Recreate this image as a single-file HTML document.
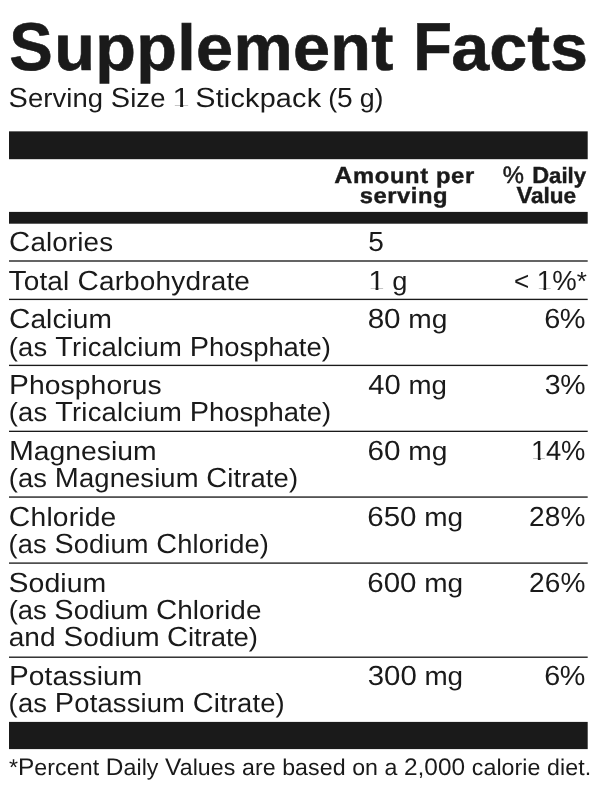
<!DOCTYPE html>
<html lang="en">
<head>
<meta charset="utf-8">
<title>Supplement Facts</title>
<style>
html,body{margin:0;padding:0;background:#fff;}
body{width:600px;height:800px;position:relative;overflow:hidden;font-family:"Liberation Sans",sans-serif;color:#1a1a1a;will-change:transform;text-rendering:geometricPrecision;}
.t{position:absolute;left:0;top:0;white-space:nowrap;line-height:1;margin:0;padding:0;transform-origin:0 0;}
.b{font-weight:bold;}
.c{font-size:1.055em;}
.one{display:inline-block;clip-path:polygon(0 0,0.6em 0,0.6em 0.764em,0.346em 0.764em,0.346em 1.1em,0.246em 1.1em,0.246em 0.764em,0 0.764em);}
.r{position:absolute;}
</style>
</head>
<body>
<div class="r" style="left:9px;top:131px;width:578px;height:1px;background:rgba(26,26,26,0.65)"></div>
<div class="r" style="left:587px;top:131px;width:1px;height:1px;background:rgba(26,26,26,0.46)"></div>
<div class="r" style="left:9px;top:132px;width:578px;height:27px;background:rgba(26,26,26,1.00)"></div>
<div class="r" style="left:587px;top:132px;width:1px;height:27px;background:rgba(26,26,26,0.70)"></div>
<div class="r" style="left:9px;top:159px;width:578px;height:1px;background:rgba(26,26,26,0.20)"></div>
<div class="r" style="left:587px;top:159px;width:1px;height:1px;background:rgba(26,26,26,0.14)"></div>
<div class="r" style="left:9px;top:211px;width:578px;height:1px;background:rgba(26,26,26,0.10)"></div>
<div class="r" style="left:587px;top:211px;width:1px;height:1px;background:rgba(26,26,26,0.07)"></div>
<div class="r" style="left:9px;top:212px;width:578px;height:11px;background:rgba(26,26,26,1.00)"></div>
<div class="r" style="left:587px;top:212px;width:1px;height:11px;background:rgba(26,26,26,0.70)"></div>
<div class="r" style="left:9px;top:223px;width:578px;height:1px;background:rgba(26,26,26,0.70)"></div>
<div class="r" style="left:587px;top:223px;width:1px;height:1px;background:rgba(26,26,26,0.49)"></div>
<div class="r" style="left:9px;top:721px;width:578px;height:1px;background:rgba(26,26,26,0.10)"></div>
<div class="r" style="left:587px;top:721px;width:1px;height:1px;background:rgba(26,26,26,0.07)"></div>
<div class="r" style="left:9px;top:722px;width:578px;height:27px;background:rgba(26,26,26,1.00)"></div>
<div class="r" style="left:587px;top:722px;width:1px;height:27px;background:rgba(26,26,26,0.70)"></div>
<div class="r" style="left:9px;top:749px;width:578px;height:1px;background:rgba(26,26,26,0.10)"></div>
<div class="r" style="left:587px;top:749px;width:1px;height:1px;background:rgba(26,26,26,0.07)"></div>
<div class="r" style="left:9px;top:260px;width:578px;height:1px;background:rgba(26,26,26,0.68)"></div>
<div class="r" style="left:587px;top:260px;width:1px;height:1px;background:rgba(26,26,26,0.47)"></div>
<div class="r" style="left:9px;top:261px;width:578px;height:1px;background:rgba(26,26,26,0.68)"></div>
<div class="r" style="left:587px;top:261px;width:1px;height:1px;background:rgba(26,26,26,0.47)"></div>
<div class="r" style="left:9px;top:298px;width:578px;height:1px;background:rgba(26,26,26,0.28)"></div>
<div class="r" style="left:587px;top:298px;width:1px;height:1px;background:rgba(26,26,26,0.19)"></div>
<div class="r" style="left:9px;top:299px;width:578px;height:1px;background:rgba(26,26,26,1.00)"></div>
<div class="r" style="left:587px;top:299px;width:1px;height:1px;background:rgba(26,26,26,0.70)"></div>
<div class="r" style="left:9px;top:300px;width:578px;height:1px;background:rgba(26,26,26,0.07)"></div>
<div class="r" style="left:587px;top:300px;width:1px;height:1px;background:rgba(26,26,26,0.05)"></div>
<div class="r" style="left:9px;top:364px;width:578px;height:1px;background:rgba(26,26,26,0.28)"></div>
<div class="r" style="left:587px;top:364px;width:1px;height:1px;background:rgba(26,26,26,0.19)"></div>
<div class="r" style="left:9px;top:365px;width:578px;height:1px;background:rgba(26,26,26,1.00)"></div>
<div class="r" style="left:587px;top:365px;width:1px;height:1px;background:rgba(26,26,26,0.70)"></div>
<div class="r" style="left:9px;top:366px;width:578px;height:1px;background:rgba(26,26,26,0.07)"></div>
<div class="r" style="left:587px;top:366px;width:1px;height:1px;background:rgba(26,26,26,0.05)"></div>
<div class="r" style="left:9px;top:430px;width:578px;height:1px;background:rgba(26,26,26,0.32)"></div>
<div class="r" style="left:587px;top:430px;width:1px;height:1px;background:rgba(26,26,26,0.23)"></div>
<div class="r" style="left:9px;top:431px;width:578px;height:1px;background:rgba(26,26,26,1.00)"></div>
<div class="r" style="left:587px;top:431px;width:1px;height:1px;background:rgba(26,26,26,0.70)"></div>
<div class="r" style="left:9px;top:496px;width:578px;height:1px;background:rgba(26,26,26,0.61)"></div>
<div class="r" style="left:587px;top:496px;width:1px;height:1px;background:rgba(26,26,26,0.42)"></div>
<div class="r" style="left:9px;top:497px;width:578px;height:1px;background:rgba(26,26,26,0.75)"></div>
<div class="r" style="left:587px;top:497px;width:1px;height:1px;background:rgba(26,26,26,0.52)"></div>
<div class="r" style="left:9px;top:562px;width:578px;height:1px;background:rgba(26,26,26,0.57)"></div>
<div class="r" style="left:587px;top:562px;width:1px;height:1px;background:rgba(26,26,26,0.40)"></div>
<div class="r" style="left:9px;top:563px;width:578px;height:1px;background:rgba(26,26,26,0.77)"></div>
<div class="r" style="left:587px;top:563px;width:1px;height:1px;background:rgba(26,26,26,0.54)"></div>
<div class="r" style="left:9px;top:656px;width:578px;height:1px;background:rgba(26,26,26,0.47)"></div>
<div class="r" style="left:587px;top:656px;width:1px;height:1px;background:rgba(26,26,26,0.33)"></div>
<div class="r" style="left:9px;top:657px;width:578px;height:1px;background:rgba(26,26,26,0.88)"></div>
<div class="r" style="left:587px;top:657px;width:1px;height:1px;background:rgba(26,26,26,0.61)"></div>
<div class="t b" id="l0" style="font-size:64.8px;letter-spacing:0.090px;transform:translate(9.29px,14px) scaleX(0.9627);-webkit-text-stroke:0.6px #1a1a1a;"><span style="font-size:1.045em">S</span></div>
<div class="t b" id="l43" style="font-size:64.8px;letter-spacing:0.353px;transform:translate(54.18px,16px) scaleX(1.0270);-webkit-text-stroke:0.6px #1a1a1a;">upplement</div>
<div class="t b" id="l44" style="font-size:64.8px;letter-spacing:0.090px;transform:translate(413.30px,14px) scaleX(0.9364);-webkit-text-stroke:0.6px #1a1a1a;"><span style="font-size:1.045em">F</span></div>
<div class="t b" id="l45" style="font-size:64.8px;letter-spacing:0.047px;transform:translate(451.14px,16px) scaleX(1.0550);-webkit-text-stroke:0.6px #1a1a1a;">acts</div>
<div class="t" id="l1" style="font-size:26.3px;letter-spacing:0.069px;transform:translate(8.62px,84px) scaleX(1.0428);"><span class="c">S</span>erving <span class="c">S</span>ize</div>
<div class="t" id="l38" style="font-size:26.3px;letter-spacing:0.004px;transform:translate(172.51px,84px) scaleX(1.1125);"><span class="c"><span class="one">1</span></span></div>
<div class="t" id="l39" style="font-size:26.3px;letter-spacing:0.187px;transform:translate(195.22px,84px) scaleX(1.0943);"><span class="c">S</span>tickpack</div>
<div class="t" id="l42" style="font-size:26.3px;letter-spacing:-0.132px;transform:translate(328.14px,84px) scaleX(1.0165);">(<span class="c">5</span> g)</div>
<div class="t b" id="l2" style="font-size:22px;letter-spacing:0.566px;transform:translate(334.37px,164px) scaleX(1.0800);-webkit-text-stroke:0.4px #1a1a1a;"><span class="c">A</span>mount per</div>
<div class="t b" id="l3" style="font-size:22px;letter-spacing:0.493px;transform:translate(359.76px,185px) scaleX(1.0800);-webkit-text-stroke:0.4px #1a1a1a;">serving</div>
<div class="t" id="l37" style="font-size:22.6px;letter-spacing:0.004px;transform:translate(502.67px,164px) scaleX(1.0000);-webkit-text-stroke:0.5px #1a1a1a;"><span class="c">%</span></div>
<div class="t b" id="l4" style="font-size:22px;letter-spacing:-0.031px;transform:translate(532.15px,164px) scaleX(1.0100);-webkit-text-stroke:0.4px #1a1a1a;"><span class="c">D</span>aily</div>
<div class="t b" id="l5" style="font-size:22px;letter-spacing:-0.043px;transform:translate(516.51px,184px) scaleX(1.0250);-webkit-text-stroke:0.4px #1a1a1a;"><span class="c" style="margin-right:-1.21px">V</span>alue</div>
<div class="t" id="l6" style="font-size:26.3px;letter-spacing:0.129px;transform:translate(9.11px,228px) scaleX(1.0559);"><span class="c">C</span>alories</div>
<div class="t" id="l7" style="font-size:26.3px;letter-spacing:0.004px;transform:translate(368.23px,228px) scaleX(1.0114);"><span class="c">5</span></div>
<div class="t" id="l8" style="font-size:26.3px;letter-spacing:0.169px;transform:translate(8.57px,267px) scaleX(1.0630);"><span class="c" style="margin-right:-2.92px">T</span>otal <span class="c">C</span>arbohydrate</div>
<div class="t" id="l9" style="font-size:26.3px;letter-spacing:0.120px;transform:translate(368.47px,267px) scaleX(1.0357);"><span class="c"><span class="one">1</span></span> g</div>
<div class="t" id="l10" style="font-size:26.3px;letter-spacing:0.132px;transform:translate(513.93px,267px) scaleX(0.9922);">&lt; <span class="c"><span class="one">1</span>%</span>*</div>
<div class="t" id="l11" style="font-size:26.3px;letter-spacing:0.033px;transform:translate(9.04px,305px) scaleX(1.0680);"><span class="c">C</span>alcium</div>
<div class="t" id="l12" style="font-size:26.3px;letter-spacing:0.207px;transform:translate(8.66px,333px) scaleX(1.0417);">(as <span class="c" style="margin-right:-0.98px">T</span>ricalcium</div>
<div class="t" id="l40" style="font-size:26.3px;letter-spacing:-0.016px;transform:translate(189.81px,333px) scaleX(1.0417);"><span class="c">P</span>hosphate)</div>
<div class="t" id="l13" style="font-size:26.3px;letter-spacing:-0.045px;transform:translate(367.64px,305px) scaleX(1.0701);"><span class="c">80</span> mg</div>
<div class="t" id="l14" style="font-size:26.3px;letter-spacing:-0.418px;transform:translate(544.13px,305px) scaleX(1.0428);"><span class="c">6%</span></div>
<div class="t" id="l15" style="font-size:26.3px;letter-spacing:0.080px;transform:translate(8.96px,371px) scaleX(1.0751);"><span class="c">P</span>hosphorus</div>
<div class="t" id="l16" style="font-size:26.3px;letter-spacing:0.203px;transform:translate(8.66px,398px) scaleX(1.0417);">(as <span class="c" style="margin-right:-0.98px">T</span>ricalcium</div>
<div class="t" id="l41" style="font-size:26.3px;letter-spacing:0.016px;transform:translate(189.81px,398px) scaleX(1.0417);"><span class="c">P</span>hosphate)</div>
<div class="t" id="l17" style="font-size:26.3px;letter-spacing:-0.012px;transform:translate(368.35px,371px) scaleX(1.0519);"><span class="c">40</span> mg</div>
<div class="t" id="l18" style="font-size:26.3px;letter-spacing:-0.238px;transform:translate(544.66px,371px) scaleX(1.0266);"><span class="c">3%</span></div>
<div class="t" id="l19" style="font-size:26.3px;letter-spacing:0.004px;transform:translate(8.95px,437px) scaleX(1.0761);"><span class="c">M</span>agnesium</div>
<div class="t" id="l20" style="font-size:26.3px;letter-spacing:0.118px;transform:translate(8.66px,464px) scaleX(1.0407);">(as <span class="c">M</span>agnesium <span class="c">C</span>itrate)</div>
<div class="t" id="l21" style="font-size:26.3px;letter-spacing:0.037px;transform:translate(367.40px,437px) scaleX(1.0701);"><span class="c">60</span> mg</div>
<div class="t" id="l22" style="font-size:26.3px;letter-spacing:-0.237px;transform:translate(531.11px,437px) scaleX(0.9861);"><span class="c"><span class="one">1</span>4%</span></div>
<div class="t" id="l23" style="font-size:26.3px;letter-spacing:0.164px;transform:translate(8.84px,503px) scaleX(1.0731);"><span class="c">C</span>hloride</div>
<div class="t" id="l24" style="font-size:26.3px;letter-spacing:0.110px;transform:translate(8.59px,530px) scaleX(1.0367);">(as <span class="c">S</span>odium <span class="c">C</span>hloride)</div>
<div class="t" id="l25" style="font-size:26.3px;letter-spacing:-0.038px;transform:translate(367.36px,503px) scaleX(1.0640);"><span class="c">650</span> mg</div>
<div class="t" id="l26" style="font-size:26.3px;letter-spacing:0.063px;transform:translate(529.08px,503px) scaleX(1.0114);"><span class="c">28%</span></div>
<div class="t" id="l27" style="font-size:26.3px;letter-spacing:0.032px;transform:translate(8.56px,569px) scaleX(1.0822);"><span class="c">S</span>odium</div>
<div class="t" id="l28" style="font-size:26.3px;letter-spacing:0.004px;transform:translate(8.66px,596px) scaleX(1.0417);">(as <span class="c">S</span>odium</div>
<div class="t" id="l46" style="font-size:26.3px;letter-spacing:0.080px;transform:translate(155.88px,596px) scaleX(1.0600);"><span class="c">C</span>hloride</div>
<div class="t" id="l29" style="font-size:26.3px;letter-spacing:0.042px;transform:translate(8.74px,623px) scaleX(1.0650);">and <span class="c">S</span>odium</div>
<div class="t" id="l47" style="font-size:26.3px;letter-spacing:-0.050px;transform:translate(167.05px,623px) scaleX(1.0468);"><span class="c">C</span>itrate)</div>
<div class="t" id="l30" style="font-size:26.3px;letter-spacing:-0.038px;transform:translate(367.36px,569px) scaleX(1.0640);"><span class="c">600</span> mg</div>
<div class="t" id="l31" style="font-size:26.3px;letter-spacing:0.063px;transform:translate(529.08px,569px) scaleX(1.0114);"><span class="c">26%</span></div>
<div class="t" id="l32" style="font-size:26.3px;letter-spacing:0.106px;transform:translate(8.91px,662px) scaleX(1.0701);"><span class="c">P</span>otassium</div>
<div class="t" id="l33" style="font-size:26.3px;letter-spacing:0.140px;transform:translate(8.61px,689px) scaleX(1.0417);">(as <span class="c">P</span>otassium <span class="c">C</span>itrate)</div>
<div class="t" id="l34" style="font-size:26.3px;letter-spacing:-0.030px;transform:translate(367.76px,662px) scaleX(1.0600);"><span class="c">300</span> mg</div>
<div class="t" id="l35" style="font-size:26.3px;letter-spacing:-0.422px;transform:translate(544.24px,662px) scaleX(1.0367);"><span class="c">6%</span></div>
<div class="t" id="l36" style="font-size:22.75px;letter-spacing:0.075px;transform:translate(8.89px,756px) scaleX(1.0180);">*<span class="c">P</span>ercent <span class="c">D</span>aily <span class="c" style="margin-right:-1.69px">V</span>alues are based on a <span class="c">2</span>,<span class="c">000</span> calorie diet.</div>
</body>
</html>
